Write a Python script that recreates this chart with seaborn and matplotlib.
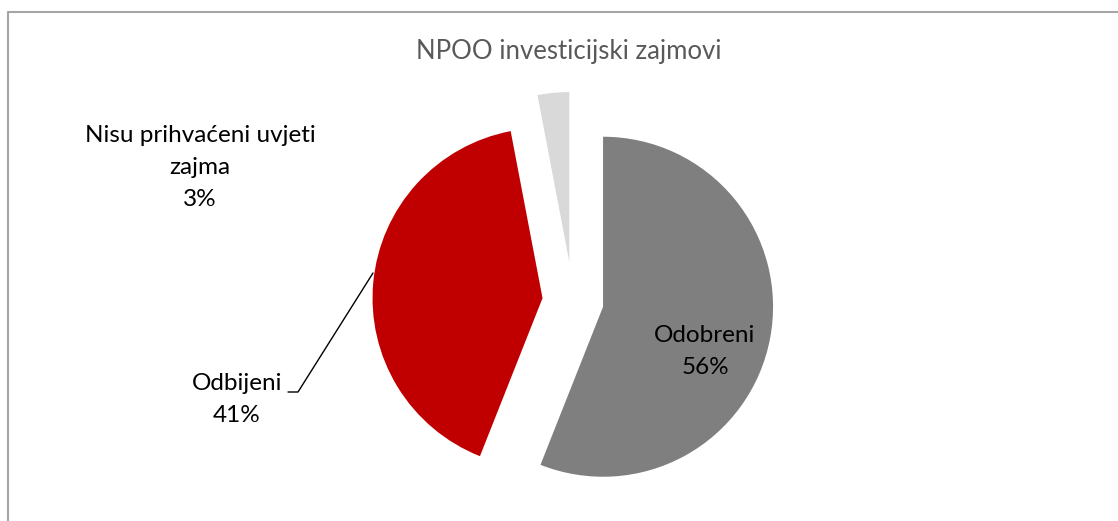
import matplotlib
matplotlib.use("Agg")
import matplotlib.pyplot as plt
import seaborn as sns

categories = ["Odobreni", "Odbijeni", "Nisu prihvaćeni uvjeti\nzajma"]
shares = [56, 41, 3]
colors = ["#7F7F7F", "#C00000", "#D9D9D9"]
explode = [0.18, 0.18, 0.23]
title = "NPOO investicijski zajmovi"

sns.set_theme(style="white")
plt.rcParams["font.family"] = ["Lato", "DejaVu Sans"]

W, H = 1118, 521
R = 170
fig = plt.figure(figsize=(W / 100, H / 100), dpi=100)
ax = fig.add_axes([0, 0, 1, 1])

# pie in pixel space (y measured from the bottom); explode offsets are absolute, so scale by radius
ax.pie(shares, colors=colors, explode=[e * R for e in explode], startangle=90,
       counterclock=False, center=(573, H - 301), radius=R, frame=True,
       wedgeprops=dict(linewidth=0))
ax.set_xlim(0, W)
ax.set_ylim(0, H)
ax.set_aspect("equal")
ax.axis("off")

# chart frame (only top/left edges visible)
ax.plot([7.5, W], [H - 11.5, H - 11.5], color="#A6A6A6", lw=1.5, clip_on=False)
ax.plot([7.5, 7.5], [0, H - 11.5], color="#A6A6A6", lw=1.5, clip_on=False)

ax.text(569, H - 52, title, ha="center", va="center", fontsize=18.5, color="#595959")

fs = 17.5
ax.text(705, H - 335, categories[0], ha="center", va="center", fontsize=fs, color="black")
ax.text(705, H - 368, f"{shares[0]}%", ha="center", va="center", fontsize=fs, color="black")

ax.text(237, H - 384, categories[1], ha="center", va="center", fontsize=fs, color="black")
ax.text(237, H - 416, f"{shares[1]}%", ha="center", va="center", fontsize=fs, color="black")
ax.plot([288, 298, 373], [H - 392, H - 392, H - 273], color="black", lw=1)

lines = categories[2].split("\n") + [f"{shares[2]}%"]
for i, t in enumerate(lines):
    ax.text(200, H - (135 + 32.5 * i), t, ha="center", va="center", fontsize=fs, color="black")

fig.savefig("out.png", dpi=100)
